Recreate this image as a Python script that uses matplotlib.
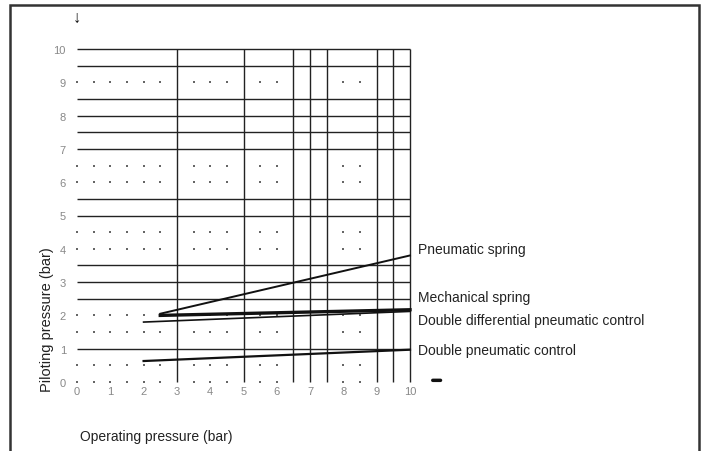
import matplotlib
matplotlib.use('Agg')
import matplotlib.pyplot as plt
from matplotlib.patches import Rectangle

# Axis ticks
x_ticks = list(range(0, 11))
y_ticks = list(range(0, 11))

# Solid grid lines and dotted grid positions
h_lines = [1, 2.5, 3, 3.5, 5, 5.5, 7, 7.5, 8, 8.5, 9.5, 10]
v_lines = [3, 5, 6.5, 7, 7.5, 9, 9.5, 10]
dot_rows = [0, 0.5, 1.5, 2, 4, 4.5, 6, 6.5, 9]
dot_cols = [0, 0.5, 1, 1.5, 2, 2.5, 3.5, 4, 4.5, 5.5, 6, 8, 8.5]

# Curves
curve_names = ["Pneumatic spring", "Mechanical spring",
               "Double differential pneumatic control", "Double pneumatic control"]
curve_x = [[2.5, 10], [2.5, 10], [2.0, 10], [2.0, 10]]
curve_y = [[2.05, 3.8], [2.0, 2.17], [1.8, 2.12], [0.63, 0.97]]
curve_lw = [1.4, 2.4, 1.2, 1.6]
label_y = [4.0, 2.55, 1.86, 0.96]

plt.rcParams['font.family'] = ['Liberation Sans', 'DejaVu Sans']

W, H = 710, 452
fig = plt.figure(figsize=(W / 100, H / 100), dpi=100)
ax = fig.add_axes([77 / W, (H - 383) / H, 333 / W, 333 / H])
ax.set_xlim(0, 10)
ax.set_ylim(0, 10)
for s in ax.spines.values():
    s.set_visible(False)

# Grid
for y in h_lines:
    ax.plot([0, 10], [y, y], color='#222222', lw=1.0, solid_capstyle='butt', clip_on=False)
for x in v_lines:
    ax.plot([x, x], [0, 10], color='#222222', lw=1.0, solid_capstyle='butt', clip_on=False)
dx = [c for r in dot_rows for c in dot_cols]
dy = [r for r in dot_rows for c in dot_cols]
ax.scatter(dx, dy, s=1.5, color='#666666', marker='s', linewidths=0, clip_on=False)

# Curves
for xs, ys, lw, name, ly in zip(curve_x, curve_y, curve_lw, curve_names, label_y):
    ax.plot(xs, ys, color='#111111', lw=lw, clip_on=False)
    ax.text(10.24, ly, name, fontsize=10, color='#222222', va='center',
            ha='left', clip_on=False)

ax.set_xticks(x_ticks)
ax.set_yticks(y_ticks)
ax.tick_params(length=0, labelsize=8, labelcolor='#888888')
ax.tick_params(axis='x', pad=3)
ax.tick_params(axis='y', pad=8)

ax.set_ylabel("Piloting pressure (bar)", fontsize=10.5, color='#222222')
ax.yaxis.set_label_coords(-0.07, 0.19)
fig.text(80 / W, 1 - 437 / H, "Operating pressure (bar)", fontsize=10,
         color='#222222', va='center', ha='left')

# Direction marks
fig.text(77 / W, 1 - 18 / H, "\u2193", fontsize=12, fontweight='bold',
         ha='center', va='center', color='#111111')
ax.annotate('', xy=(11.0, 0.05), xytext=(10.6, 0.05), annotation_clip=False,
            arrowprops=dict(arrowstyle='-', lw=2.5, color='#111111'))

# Frame around figure
fig.add_artist(Rectangle((10 / W, -0.05), 689 / W, 1.05 - 6 / H, transform=fig.transFigure,
                         fill=False, lw=1.8, edgecolor='#333333'))

plt.savefig("out.png", dpi=100)
